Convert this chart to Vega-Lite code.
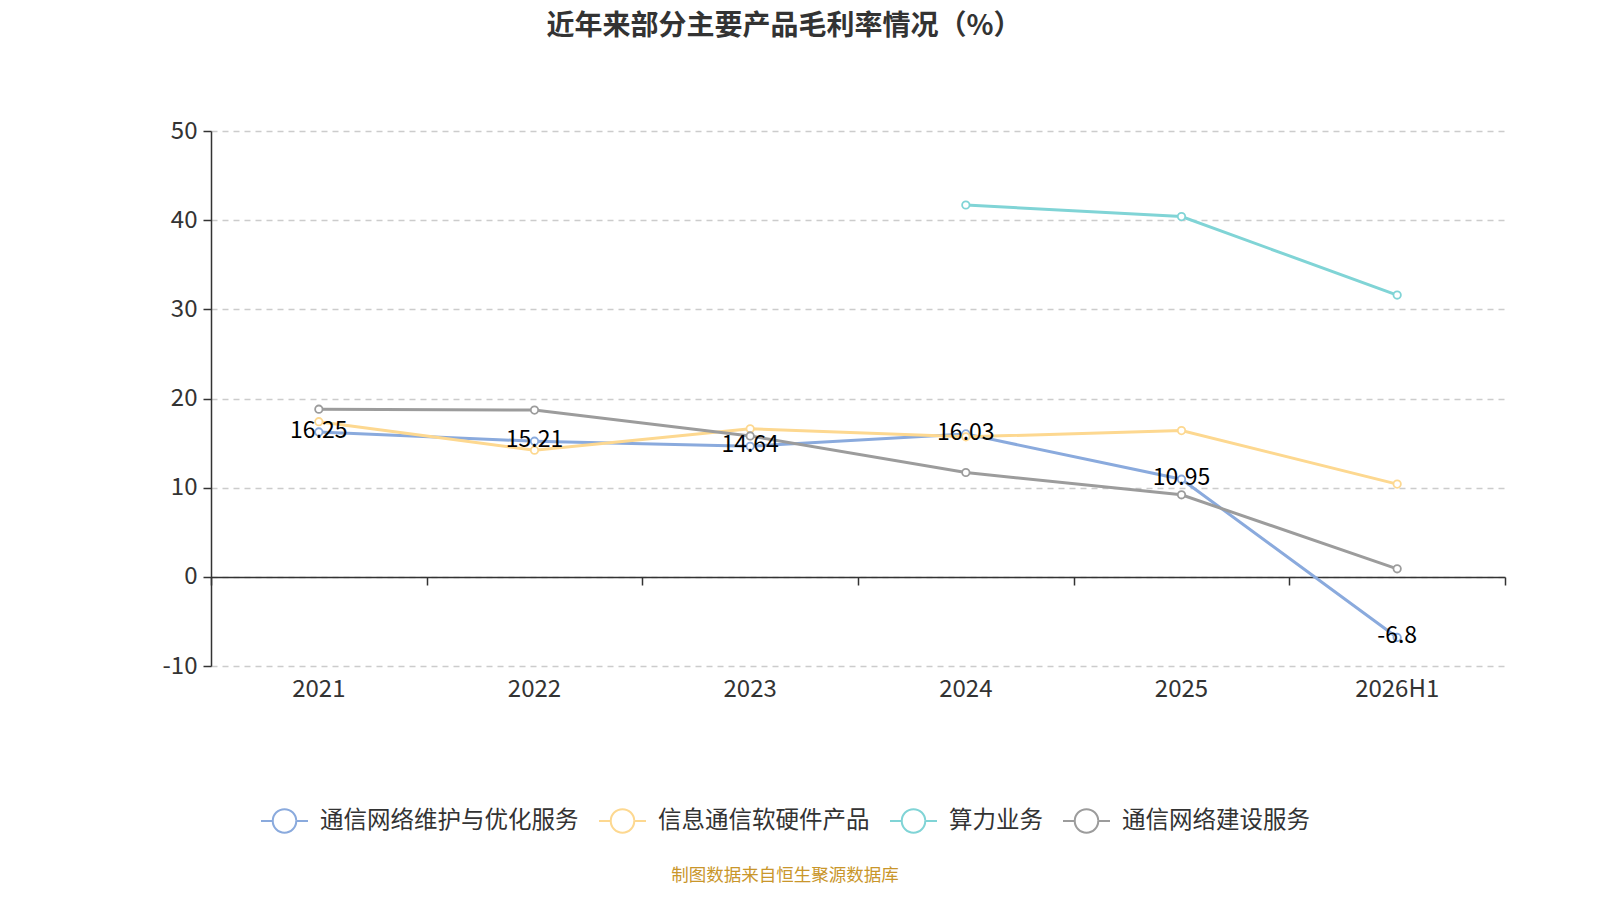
{
  "$schema": "https://vega.github.io/schema/vega-lite/v6.json",
  "autosize": "none",
  "width": 1294,
  "height": 535,
  "padding": {"left": 211, "top": 131, "right": 95, "bottom": 234},
  "background": "#ffffff",
  "config": {
    "font": "Noto Sans CJK SC",
    "view": {"stroke": null}
  },
  "title": {
    "text": "近年来部分主要产品毛利率情况（%）",
    "fontSize": 28,
    "fontWeight": "bold",
    "color": "#333333",
    "anchor": "middle",
    "dx": -74,
    "offset": 78
  },
  "data": {
    "values": [
      {"year": "2021", "series": "通信网络维护与优化服务", "value": 16.25},
      {"year": "2022", "series": "通信网络维护与优化服务", "value": 15.21},
      {"year": "2023", "series": "通信网络维护与优化服务", "value": 14.64},
      {"year": "2024", "series": "通信网络维护与优化服务", "value": 16.03},
      {"year": "2025", "series": "通信网络维护与优化服务", "value": 10.95},
      {"year": "2026H1", "series": "通信网络维护与优化服务", "value": -6.8},
      {"year": "2021", "series": "信息通信软硬件产品", "value": 17.4},
      {"year": "2022", "series": "信息通信软硬件产品", "value": 14.2},
      {"year": "2023", "series": "信息通信软硬件产品", "value": 16.6},
      {"year": "2024", "series": "信息通信软硬件产品", "value": 15.7},
      {"year": "2025", "series": "信息通信软硬件产品", "value": 16.4},
      {"year": "2026H1", "series": "信息通信软硬件产品", "value": 10.4},
      {"year": "2024", "series": "算力业务", "value": 41.7},
      {"year": "2025", "series": "算力业务", "value": 40.4},
      {"year": "2026H1", "series": "算力业务", "value": 31.6},
      {"year": "2021", "series": "通信网络建设服务", "value": 18.8},
      {"year": "2022", "series": "通信网络建设服务", "value": 18.7},
      {"year": "2023", "series": "通信网络建设服务", "value": 15.8},
      {"year": "2024", "series": "通信网络建设服务", "value": 11.7},
      {"year": "2025", "series": "通信网络建设服务", "value": 9.2},
      {"year": "2026H1", "series": "通信网络建设服务", "value": 0.9}
    ]
  },
  "resolve": {"axis": {"x": "independent"}},
  "layer": [
    {
      "mark": {
        "type": "line",
        "strokeWidth": 3,
        "point": {"filled": false, "fill": "#ffffff", "size": 55, "strokeWidth": 1.8}
      },
      "encoding": {
        "x": {
          "field": "year",
          "type": "nominal",
          "sort": ["2021", "2022", "2023", "2024", "2025", "2026H1"],
          "scale": {"type": "band", "paddingInner": 0, "paddingOuter": 0},
          "axis": {
            "title": null,
            "orient": "bottom",
            "domain": false,
            "ticks": false,
            "labelAngle": 0,
            "labelFontSize": 24,
            "labelColor": "#333333",
            "labelPadding": 11
          }
        },
        "y": {
          "field": "value",
          "type": "quantitative",
          "scale": {"domain": [-10, 50], "nice": false, "zero": false},
          "axis": {
            "title": null,
            "values": [-10, 0, 10, 20, 30, 40, 50],
            "labelExpr": "'' + datum.value",
            "domainColor": "#333333",
            "domainWidth": 1.5,
            "tickColor": "#333333",
            "tickWidth": 1.5,
            "tickSize": 8,
            "labelFontSize": 24,
            "labelColor": "#333333",
            "labelPadding": 6,
            "grid": true,
            "gridColor": "#cccccc",
            "gridDash": [6, 5],
            "gridWidth": 1.5
          }
        },
        "color": {
          "field": "series",
          "type": "nominal",
          "scale": {
            "domain": ["通信网络维护与优化服务", "信息通信软硬件产品", "算力业务", "通信网络建设服务"],
            "range": ["#8aaadd", "#fdd890", "#80d4d6", "#9c9c9c"]
          },
          "legend": {
            "orient": "none",
            "direction": "horizontal",
            "legendX": 49,
            "legendY": 665,
            "padding": 0,
            "symbolType": "M-1,0L-0.5,0M0.5,0L1,0M0.5,0A0.5,0.5,0,1,1,-0.5,0A0.5,0.5,0,1,1,0.5,0",
            "symbolSize": 2209,
            "symbolStrokeWidth": 2,
            "symbolFillColor": "#ffffff",
            "labelFontSize": 23.5,
            "labelColor": "#333333",
            "labelOffset": 11,
            "labelLimit": 0,
            "columnPadding": 16,
            "title": "制图数据来自恒生聚源数据库",
            "titleLimit": 0,
            "titleOrient": "bottom",
            "titleAnchor": "middle",
            "titleFontSize": 17.5,
            "titleFontWeight": "normal",
            "titleColor": "#c9962b",
            "titlePadding": 30
          }
        }
      }
    },
    {
      "transform": [{"filter": "datum.series === '通信网络维护与优化服务'"}],
      "mark": {"type": "text", "fontSize": 23, "color": "#000000", "baseline": "middle", "dy": -1},
      "encoding": {
        "x": {
          "field": "year",
          "type": "nominal",
          "sort": ["2021", "2022", "2023", "2024", "2025", "2026H1"],
          "axis": {
            "title": null,
            "orient": "bottom",
            "labels": false,
            "offset": -89,
            "domainColor": "#333333",
            "domainWidth": 1.5,
            "tickColor": "#333333",
            "tickWidth": 1.5,
            "tickSize": 8,
            "tickBand": "extent"
          }
        },
        "y": {"field": "value", "type": "quantitative"},
        "text": {"field": "value", "type": "nominal"}
      }
    }
  ]
}
